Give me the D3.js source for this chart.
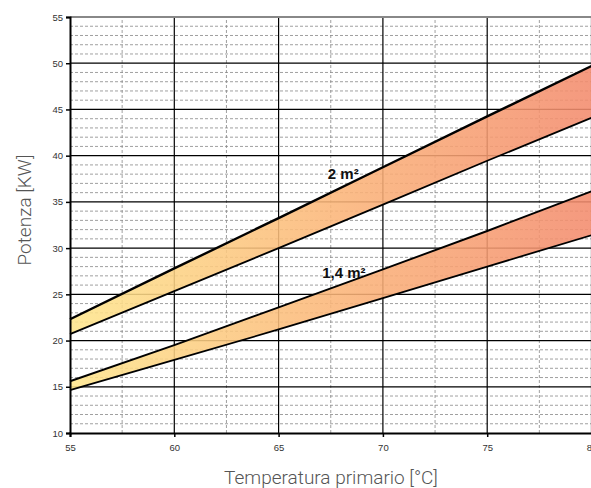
<!DOCTYPE html>
<html><head><meta charset="utf-8">
<script src="https://cdn.jsdelivr.net/npm/d3@7"></script>
<style>body{margin:0;background:#fff}svg{display:block}</style>
</head><body>
<svg id="c" width="591" height="488"></svg>
<script>
const temps = [55, 60, 65, 70, 75, 80];
const upper2 = [22.3, 27.8, 33.25, 38.75, 44.25, 49.7];
const lower2 = [20.7, 25.35, 30.0, 34.7, 39.45, 44.1];
const upper14 = [15.6, 19.5, 23.6, 27.7, 31.85, 36.15];
const lower14 = [14.65, 17.9, 21.2, 24.6, 28.0, 31.4];
const bandLabels = ["2 m²", "1,4 m²"];
const labelPos = [[68.1, 37.45], [68.13, 26.8]];
const xTicks = [55, 60, 65, 70, 75, 80];
const yTicks = [10, 15, 20, 25, 30, 35, 40, 45, 50, 55];
const xTitle = "Temperatura primario [°C]";
const yTitle = "Potenza [KW]";

const svg = d3.select("#c");
const x = d3.scaleLinear().domain([55, 80]).range([70, 591.5]);
const y = d3.scaleLinear().domain([10, 55]).range([433, 17]);

const defs = svg.append("defs");
const g = defs.append("linearGradient").attr("id", "grad")
  .attr("gradientUnits", "userSpaceOnUse")
  .attr("x1", x(55)).attr("x2", x(80)).attr("y1", 0).attr("y2", 0);
g.append("stop").attr("offset", "0%").attr("stop-color", "#fee68c");
g.append("stop").attr("offset", "50%").attr("stop-color", "#fbb679");
g.append("stop").attr("offset", "100%").attr("stop-color", "#f38b6d");

const minorY = d3.range(11, 55).filter(v => v % 5 !== 0);
svg.append("g").selectAll("line").data(minorY).join("line")
  .attr("x1", x(55)).attr("x2", x(80)).attr("y1", d => y(d)).attr("y2", d => y(d))
  .attr("stroke", "#888").attr("stroke-width", 0.8).attr("stroke-dasharray", "3,2");
const minorX = [57.5, 62.5, 67.5, 72.5, 77.5];
svg.append("g").selectAll("line").data(minorX).join("line")
  .attr("x1", d => x(d)).attr("x2", d => x(d)).attr("y1", y(10)).attr("y2", y(55))
  .attr("stroke", "#888").attr("stroke-width", 0.8).attr("stroke-dasharray", "3,2");

svg.append("g").selectAll("line").data(yTicks.filter(v => v > 10 && v < 55)).join("line")
  .attr("x1", x(55)).attr("x2", x(80)).attr("y1", d => y(d)).attr("y2", d => y(d))
  .attr("stroke", "#000").attr("stroke-width", 1.2);
svg.append("g").selectAll("line").data(xTicks.filter(v => v > 55)).join("line")
  .attr("x1", d => x(d)).attr("x2", d => x(d)).attr("y1", y(10)).attr("y2", y(55))
  .attr("stroke", "#000").attr("stroke-width", 1.2);

const area = d3.area().x(d => x(d.t)).y0(d => y(d.lo)).y1(d => y(d.hi));
const line = d3.line().x(d => x(d[0])).y(d => y(d[1]));
const bands = [
  temps.map((t, i) => ({t, lo: lower2[i], hi: upper2[i]})),
  temps.map((t, i) => ({t, lo: lower14[i], hi: upper14[i]}))
];
bands.forEach(b => {
  svg.append("path").datum(b).attr("d", area).attr("fill", "url(#grad)").attr("fill-opacity", 0.88);
});
[[upper2, 2.4], [lower2, 1.8], [upper14, 1.9], [lower14, 1.8]].forEach(([arr, w]) => {
  svg.append("path").datum(temps.map((t, i) => [t, arr[i]])).attr("d", line)
    .attr("fill", "none").attr("stroke", "#000").attr("stroke-width", w);
});

bandLabels.forEach((t, i) => {
  svg.append("text").attr("x", x(labelPos[i][0])).attr("y", y(labelPos[i][1]))
    .attr("text-anchor", "middle").attr("font-family", "Liberation Sans, Arial, sans-serif")
    .attr("font-weight", "bold").attr("font-size", 15).attr("fill", "#111").text(t);
});

svg.append("line").attr("x1", x(55)).attr("x2", x(80)).attr("y1", y(55)).attr("y2", y(55))
  .attr("stroke", "#888").attr("stroke-width", 2);

const xAxis = d3.axisBottom(x).tickValues(xTicks).tickSize(4).tickPadding(7);
const yAxis = d3.axisLeft(y).tickValues(yTicks).tickSize(4).tickPadding(3);
const gx = svg.append("g").attr("transform", `translate(0,${y(10)})`).call(xAxis);
const gy = svg.append("g").attr("transform", `translate(${x(55)},0)`).call(yAxis);
[gx, gy].forEach(a => {
  a.select(".domain").attr("stroke", "#000").attr("stroke-width", 2);
  a.selectAll(".tick line").attr("stroke", "#000").attr("stroke-width", 1.5);
  a.selectAll(".tick text").attr("font-family", "Liberation Sans, Arial, sans-serif")
    .attr("font-size", 9.5).attr("fill", "#333");
});

svg.append("text").attr("x", 331).attr("y", 484).attr("text-anchor", "middle")
  .attr("font-family", "Roboto, sans-serif").attr("font-weight", 300).attr("font-size", 19)
  .attr("fill", "#555").text(xTitle);
svg.append("text").attr("transform", "translate(31,210) rotate(-90)").attr("text-anchor", "middle")
  .attr("font-family", "Roboto, sans-serif").attr("font-weight", 300).attr("font-size", 19)
  .attr("fill", "#555").text(yTitle);
</script>
</body></html>
